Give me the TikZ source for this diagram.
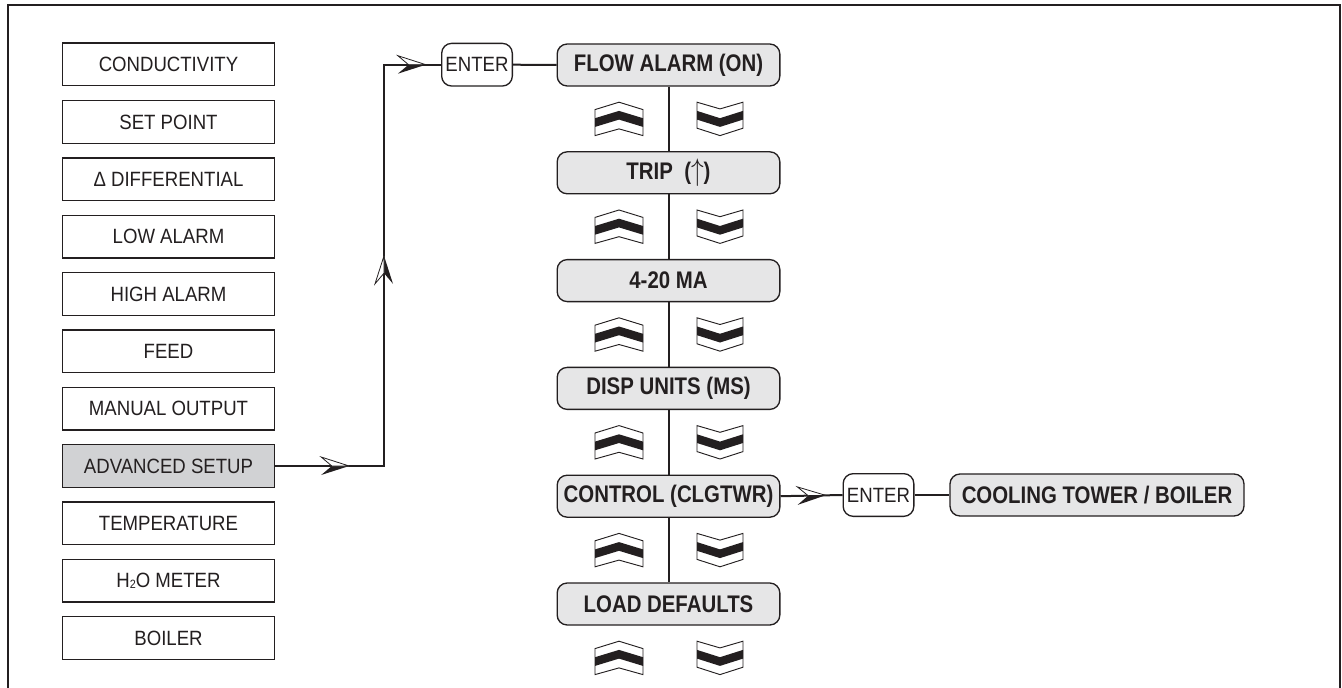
\documentclass[tikz,border=0pt]{standalone}
\usepackage{graphicx}
\usepackage{fontspec}
\setmainfont{Liberation Sans}
\newfontfamily\regfont{Liberation Sans}[FakeStretch=0.9]
\newfontfamily\hdrfont{Liberation Sans}[FakeStretch=0.85]
\usetikzlibrary{decorations.markings}
\definecolor{ink}{HTML}{231F20}
\definecolor{boxgray}{HTML}{E6E6E7}
\definecolor{advgray}{HTML}{D1D2D4}
\newcommand{\halfhead}{%
  \fill[ink] (0,0) -- (-21pt,-6.75pt) -- (-13pt,0) -- cycle;
  \filldraw[fill=white,draw=ink,line width=0.6pt,line join=miter] (0,0) -- (-21pt,6.75pt) -- (-13pt,0) -- cycle;}
\newcommand{\tallup}{\raisebox{-1pt}{\scalebox{1.1}[1.35]{$\uparrow$}}}
\tikzset{
  lbox/.style={draw=ink, line width=1pt, fill=white, minimum width=159pt, minimum height=32pt, inner sep=0pt, text=ink, font=\regfont\fontsize{15.5}{18}\selectfont},
  advbox/.style={lbox, fill=advgray},
  rbox/.style={draw=ink, line width=1pt, rounded corners=7.5pt, fill=boxgray, minimum width=167pt, minimum height=31.5pt, inner sep=0pt, text=ink, font=\hdrfont\bfseries\fontsize{18}{21}\selectfont},
  ebox/.style={draw=ink, line width=1pt, rounded corners=7.5pt, fill=white, minimum width=53pt, minimum height=32pt, inner sep=0pt, text=ink, font=\regfont\fontsize{15.5}{18}\selectfont},
  conn/.style={draw=ink, line width=1.5pt},
  upchev/.pic={
    \filldraw[fill=white,draw=ink,line width=0.7pt,line join=miter] (-24,-9.3) -- (0,-16.7) -- (24,-9.3) -- (24,16.7) -- (0,10) -- (-24,16.7) -- cycle;
    \fill[ink] (-24,-0.7) -- (0,-8) -- (24,-0.7) -- (24,8) -- (0,0.7) -- (-24,8) -- cycle;
  },
  downchev/.pic={
    \filldraw[fill=white,draw=ink,line width=0.7pt,line join=miter] (-23,9.3) -- (0,16.7) -- (23,9.3) -- (23,-16.7) -- (0,-10) -- (-23,-16.7) -- cycle;
    \fill[ink] (-23,0.7) -- (0,8) -- (23,0.7) -- (23,-8) -- (0,-0.7) -- (-23,-8) -- cycle;
  }
}
\begin{document}
\begin{tikzpicture}[x=0.75pt,y=-0.75pt]
\useasboundingbox (0,0) rectangle (1342,688);
% frame
\draw[ink, line width=1.5pt] (8,688) -- (8,5) -- (1340,5) -- (1340,688);
% left menu
\node[lbox] (l0) at (168.5,64.5) {CONDUCTIVITY};
\node[lbox] (l1) at (168.5,121.9) {SET POINT};
\node[lbox] (l2) at (168.5,179.2) {Δ DIFFERENTIAL};
\node[lbox] (l3) at (168.5,236.6) {LOW ALARM};
\node[lbox] (l4) at (168.5,293.9) {HIGH ALARM};
\node[lbox] (l5) at (168.5,351.3) {FEED};
\node[lbox] (l6) at (168.5,408.6) {MANUAL OUTPUT};
\node[advbox] (l7) at (168.5,466) {ADVANCED SETUP};
\node[lbox] (l8) at (168.5,523.3) {TEMPERATURE};
\node[lbox] (l9) at (168.5,580.7) {H\raisebox{-0.5pt}{\fontsize{9}{9}\selectfont 2}O METER};
\node[lbox] (l10) at (168.5,638) {BOILER};
% right column
\node[ebox] (e1) at (477,64.7) {ENTER};
\node[rbox] (b0) at (668.5,65) {FLOW ALARM (ON)};
\node[rbox] (b1) at (668.5,172.8) {TRIP\ \ (\tallup)};
\node[rbox] (b2) at (668.5,280.6) {4-20 MA};
\node[rbox] (b3) at (668.5,388.4) {DISP UNITS (MS)};
\node[rbox] (b4) at (668.5,496.2) {CONTROL (CLGTWR)};
\node[rbox] (b5) at (668.5,604) {LOAD DEFAULTS};
\node[ebox] (e2) at (878.5,495) {ENTER};
\node[rbox, minimum width=220.5pt] (cb) at (1097,495) {COOLING TOWER / BOILER};
% connectors
\path[conn, postaction={decorate}, decoration={markings,
   mark=at position 55.5pt with {\halfhead},
   mark=at position 239.25pt with {\halfhead},
   mark=at position 414pt with {\halfhead}}]
   (l7.east) -- (384,466) -- (384,64.7) -- (e1.west);
\draw[conn] (e1.east) -- (b0.west);
\draw[conn] (b0) -- (b1);
\draw[conn] (b1) -- (b2);
\draw[conn] (b2) -- (b3);
\draw[conn] (b3) -- (b4);
\draw[conn] (b4) -- (b5);
\path[conn, postaction={decorate}, decoration={markings,
   mark=at position 33.75pt with {\halfhead}}]
   (b4.east) -- (e2.west);
\draw[conn] (e2.east) -- (cb.west);
% chevrons
\foreach \yy in {118.9,226.7,334.5,442.3,550.1,657.9} {
  \pic at (619,\yy) {upchev};
  \pic at (720,\yy) {downchev};
}
\end{tikzpicture}
\end{document}
